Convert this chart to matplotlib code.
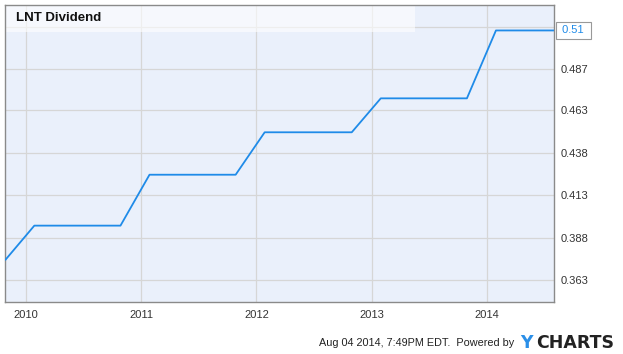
import matplotlib.pyplot as plt
import matplotlib.patches as mpatches
from datetime import datetime

# LNT quarterly dividend per share (ex-dates)
ex_dates = ["2009-10-28", "2010-01-27", "2010-04-28", "2010-07-28", "2010-10-27",
            "2011-01-27", "2011-04-27", "2011-07-27", "2011-10-27",
            "2012-01-27", "2012-04-26", "2012-07-27", "2012-10-29",
            "2013-01-29", "2013-04-26", "2013-07-29", "2013-10-29",
            "2014-01-29", "2014-04-28", "2014-07-29"]
dividends = [0.375, 0.395, 0.395, 0.395, 0.395,
             0.425, 0.425, 0.425, 0.425,
             0.45, 0.45, 0.45, 0.45,
             0.47, 0.47, 0.47, 0.47,
             0.51, 0.51, 0.51]
year_ticks = ["2010", "2011", "2012", "2013", "2014"]
y_ticks = [0.363, 0.388, 0.413, 0.438, 0.463, 0.487, 0.512]

dates = [datetime.strptime(d, "%Y-%m-%d") for d in ex_dates]

plt.rcParams['font.family'] = ['Liberation Sans', 'DejaVu Sans']
fig = plt.figure(figsize=(6.23, 3.54), dpi=100)
ax = fig.add_axes([5/623, 1-302/354, 549/623, 297/354])
ax.set_facecolor('#eaf0fb')

ax.plot(dates, dividends, color='#1f8be8', lw=1.3, zorder=3)

ax.set_xlim(datetime(2009, 10, 26), datetime(2014, 8, 1))
ax.set_ylim(0.350, 0.525)

ax.set_xticks([datetime(int(y), 1, 1) for y in year_ticks])
ax.set_xticklabels(year_ticks)
ax.yaxis.tick_right()
ax.set_yticks(y_ticks)
ax.set_yticklabels(["%.3f" % v for v in y_ticks])
ax.tick_params(length=0, labelsize=8, colors='#333333')
ax.tick_params(axis='x', pad=6)
ax.tick_params(axis='y', pad=5)
ax.grid(True, color='#d6d6d6', lw=0.9)
ax.set_axisbelow(True)
for s in ax.spines.values():
    s.set_color('#8a8a8a')
    s.set_linewidth(1)

# title box
ax.add_patch(mpatches.Rectangle((0, 0.909), 0.747, 0.091, transform=ax.transAxes,
                                facecolor='white', alpha=0.6, edgecolor='none', zorder=2))
ax.text(0.02, 0.955, "LNT Dividend", transform=ax.transAxes, fontsize=9.5,
        fontweight='bold', color='#111111', va='center', zorder=4)

# last value label
last = dividends[-1]
ax.text(1.01, last, " %.2f " % last, transform=ax.get_yaxis_transform(), fontsize=8,
        color='#1f8be8', va='center', ha='left', zorder=6, clip_on=False,
        bbox=dict(boxstyle='square,pad=0.3', facecolor='white', edgecolor='#999999', lw=0.8))

# footer
fig.text(514/623, 1-343/354, "Aug 04 2014, 7:49PM EDT.  Powered by", fontsize=7.8,
         color='#222222', ha='right', va='center')
fig.text(520/623, 1-343/354, "Y", fontsize=12.5, fontweight='bold', color='#2b8fe8',
         ha='left', va='center', family='DejaVu Sans')
fig.text(536/623, 1-343/354, "CHARTS", fontsize=12.5, fontweight='bold', color='#222222',
         ha='left', va='center', family='DejaVu Sans')

fig.savefig('out.png', dpi=100)
